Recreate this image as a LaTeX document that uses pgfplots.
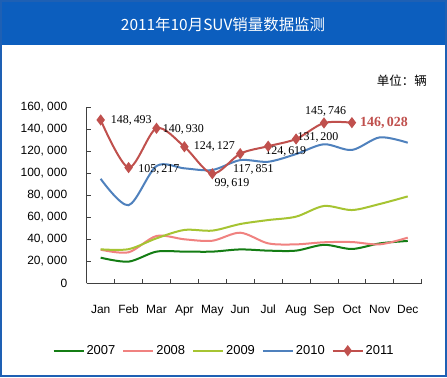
\documentclass[border=0pt]{standalone}
\usepackage{fontspec}
\setmainfont{Liberation Sans}
\newfontfamily\cjk{Noto Sans CJK SC}
\newfontfamily\dlfont{Liberation Serif}
\usepackage{pgfplots}
\pgfplotsset{compat=1.18}
\definecolor{c07}{RGB}{20,125,20}
\definecolor{c08}{RGB}{240,130,128}
\definecolor{c09}{RGB}{166,196,50}
\definecolor{c10}{RGB}{79,129,189}
\definecolor{c11}{RGB}{192,80,77}
\definecolor{titleblue}{RGB}{12,94,190}
\definecolor{framecol}{RGB}{30,96,180}
\begin{document}
\begin{tikzpicture}[x=1bp,y=1bp]
\useasboundingbox (0,0) rectangle (447,377);
\fill[white] (0,0) rectangle (447,377);
\fill[titleblue] (0,332) rectangle (447,377);
\draw[framecol, line width=2bp] (1,1) rectangle (446,376);
\node[white, font=\cjk\fontsize{15.5}{18}\selectfont] at (223,352) {2011年10月SUV销量数据监测};
\node[anchor=east, inner sep=0, font=\cjk\fontsize{12.5}{15}\selectfont] at (427,296.3) {单位：辆};
\begin{axis}[
  at={(86.7bp,93.7bp)}, anchor=south west,
  scale only axis, width=335bp, height=176bp,
  xmin=-0.5, xmax=11.5, ymin=0, ymax=160000,
  scaled y ticks=false,
  axis x line*=bottom, axis y line*=left,
  axis line style={black!75, line width=0.8bp},
  tick align=inside, major tick length=4bp,
  tick style={black!75, line width=0.8bp},
  xtick={-0.5,0.5,...,11.5},
  x tick label as interval,
  xticklabels={Jan,Feb,Mar,Apr,May,Jun,Jul,Aug,Sep,Oct,Nov,Dec},
  xticklabel style={yshift=-18bp},
  ytick={0,20000,40000,60000,80000,100000,120000,140000,160000},
  yticklabels={0,{20, 000},{40, 000},{60, 000},{80, 000},{100, 000},{120, 000},{140, 000},{160, 000}},
  yticklabel style={xshift=-16bp},
  tick label style={font=\fontsize{12}{14}\selectfont},
  legend columns=5,
  legend style={at={(0.41,-0.383)}, anchor=center, draw=none, fill=none,
    font=\fontsize{13}{15}\selectfont, inner sep=0pt,
    /tikz/every even column/.append style={column sep=5bp}},
  legend image code/.code={\draw[mark repeat=2,mark phase=2,#1] plot coordinates {(0bp,0bp) (15bp,0bp) (30bp,0bp)};},
  clip=false,
]
\addplot[c07, line width=2bp, smooth, no markers] coordinates {
 (0,23300) (1,19700) (2,28800) (3,28800) (4,28800) (5,30800) (6,29700) (7,29700) (8,35000) (9,31200) (10,36300) (11,38500)};
\addlegendentry{2007}
\addplot[c08, line width=2bp, smooth, no markers] coordinates {
 (0,30600) (1,28200) (2,43000) (3,40000) (4,38700) (5,46000) (6,36300) (7,35400) (8,37300) (9,37500) (10,35400) (11,41500)};
\addlegendentry{2008}
\addplot[c09, line width=2bp, smooth, no markers] coordinates {
 (0,30900) (1,31000) (2,40900) (3,48500) (4,47900) (5,53900) (6,57500) (7,60600) (8,70300) (9,66600) (10,72100) (11,79000)};
\addlegendentry{2009}
\addplot[c10, line width=2bp, smooth, no markers] coordinates {
 (0,95000) (1,71000) (2,106600) (3,104500) (4,103000) (5,112000) (6,110500) (7,117500) (8,126400) (9,121200) (10,132700) (11,127800)};
\addlegendentry{2010}
\addplot[c11, line width=2bp, smooth, mark=diamond*, mark size=4bp, mark options={solid, fill=c11, draw=c11}] coordinates {
 (0,148493) (1,105217) (2,140930) (3,124127) (4,99619) (5,117851) (6,124619) (7,131200) (8,145746) (9,146028)};
\addlegendentry{2011}
\begin{scope}[every node/.style={inner sep=0pt, anchor=west, font=\dlfont\fontsize{12}{14}\selectfont}]
\node at (axis cs:0,148493) [xshift=10bp, yshift=-0.7bp] {148,\,493};
\node at (axis cs:1,105217) [xshift=9.7bp, yshift=-1.7bp] {105,\,217};
\node at (axis cs:2,140930) [xshift=6.3bp, yshift=-1bp] {140,\,930};
\node at (axis cs:3,124127) [xshift=9.3bp] {124,\,127};
\node at (axis cs:4,99619) [xshift=2bp, yshift=-9.6bp] {99,\,619};
\node at (axis cs:5,117851) [xshift=-7.3bp, yshift=-15.6bp] {117,\,851};
\node at (axis cs:6,124619) [xshift=-3bp, yshift=-5.5bp] {124,\,619};
\node at (axis cs:7,131200) [xshift=1.3bp, yshift=1.7bp] {131,\,200};
\node at (axis cs:8,145746) [xshift=-19bp, yshift=11.3bp] {145,\,746};
\node[text=c11, font=\dlfont\bfseries\fontsize{14}{16}\selectfont] at (axis cs:9,146028) [xshift=8bp, yshift=0bp] {146,\,028};
\end{scope}
\end{axis}
\end{tikzpicture}
\end{document}
